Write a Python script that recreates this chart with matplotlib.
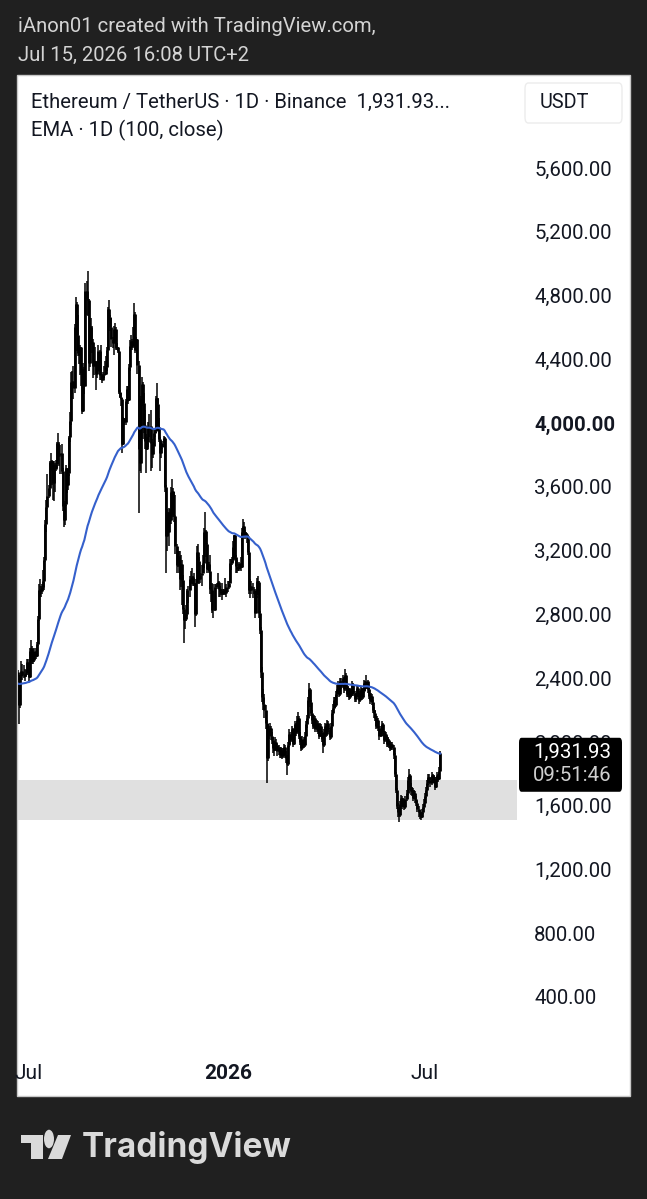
import matplotlib
matplotlib.use('Agg')

import numpy as np
import pandas as pd
import matplotlib.pyplot as plt
import matplotlib.dates as mdates
from matplotlib.patches import Rectangle, FancyBboxPatch, Circle, Polygon

plt.rcParams['font.family'] = ['Roboto', 'DejaVu Sans']

###### DATA ##########################################################################################
# ETH/USDT daily candles, 2025-06-21 .. 2026-07-15 (open = previous close)
start_date = '2025-06-21'
first_open = 2440
ema_seed = 2365          # EMA(100) value just before the first candle

closes = [
    2410, 2230, 2415, 2445, 2420, 2415, 2425, 2435, 2500, 2485,                                   # Jun 2025
    2405, 2570, 2590, 2510, 2515, 2570, 2540, 2615, 2770, 2950, 2960, 2945, 2970, 3010, 3140, 3370,
    3475, 3545, 3590, 3755, 3760, 3745, 3625, 3710, 3715, 3745, 3875, 3795, 3800, 3810, 3700,     # Jul
    3480, 3390, 3495, 3720, 3610, 3685, 3910, 4015, 4255, 4265, 4220, 4600, 4750, 4550, 4440, 4425,
    4475, 4315, 4075, 4340, 4230, 4830, 4780, 4775, 4380, 4600, 4505, 4510, 4360, 4370, 4390,     # Aug
    4310, 4330, 4450, 4300, 4300, 4270, 4300, 4310, 4310, 4350, 4460, 4715, 4665, 4605, 4525, 4500,
    4590, 4590, 4470, 4480, 4450, 4195, 4165, 4150, 3870, 4030, 4010, 4140, 4215, 4145,           # Sep
    4350, 4485, 4515, 4485, 4515, 4685, 4460, 4530, 4365, 3835, 3750, 4155, 4245, 4125, 3990, 3890,
    3835, 3880, 3985, 3980, 3875, 3805, 3855, 3935, 3950, 4160, 4120, 3975, 3900, 3810, 3850,     # Oct
    3875, 3905, 3600, 3290, 3425, 3315, 3445, 3395, 3565, 3575, 3425, 3420, 3230, 3110, 3165, 3110,
    3020, 3115, 3015, 2835, 2765, 2770, 2800, 2955, 2955, 3025, 3020, 3035, 2990, 2990,           # Nov
    2800, 3000, 3190, 3135, 3020, 3045, 3060, 3120, 3320, 3325, 3240, 3085, 3115, 3075, 2960, 2950,
    2830, 2830, 2975, 2980, 2985, 3005, 2960, 2945, 2935, 2930, 2950, 2950, 2935, 2970, 2970,     # Dec
    3000, 3120, 3125, 3140, 3225, 3295, 3160, 3105, 3085, 3085, 3120, 3095, 3320, 3355, 3320, 3295,
    3305, 3290, 3190, 2950, 2980, 2950, 2950, 2950, 2810, 2920, 3010, 3005, 2810, 2700, 2440,     # Jan 2026
    2280, 2240, 2200, 2120, 1900, 2080, 2060, 2090, 2040, 2010, 1960, 1950, 2000, 1980, 1940, 1960,
    1920, 1950, 1910, 1940, 1970, 1920, 1900, 1860, 1980, 2050, 2010, 2080,                       # Feb
    1990, 2060, 2110, 2060, 2140, 2150, 2040, 2000, 1960, 2020, 1980, 2040, 2110, 2150, 2260, 2330,
    2250, 2180, 2140, 2100, 2150, 2080, 2120, 2070, 2040, 2100, 2060, 2020, 1980, 2060, 2100,     # Mar
    2050, 2120, 2080, 2030, 2100, 2180, 2210, 2260, 2230, 2300, 2330, 2360, 2300, 2380, 2350, 2400,
    2330, 2420, 2350, 2300, 2330, 2280, 2320, 2300, 2360, 2310, 2270, 2290, 2340, 2300,           # Apr
    2260, 2300, 2330, 2280, 2320, 2370, 2340, 2380, 2330, 2290, 2260, 2290, 2250, 2200, 2180, 2150,
    2100, 2140, 2090, 2040, 2080, 2110, 2060, 2010, 2050, 2030, 1990, 2010, 1980, 1960, 1990,     # May
    1970, 1920, 1800, 1700, 1600, 1560, 1540, 1610, 1650, 1600, 1630, 1590, 1640, 1680, 1760, 1790,
    1720, 1690, 1700, 1650, 1680, 1640, 1620, 1580, 1560, 1540, 1530, 1560, 1590, 1620,           # Jun
    1660, 1700, 1740, 1780, 1760, 1740, 1790, 1760, 1770, 1720, 1760, 1790, 1770, 1820, 1931.93,  # Jul
]

highs = [
    2450, 2420, 2420, 2510, 2490, 2480, 2460, 2450, 2520, 2520,
    2495, 2590, 2640, 2600, 2530, 2590, 2590, 2630, 2790, 2990, 3020, 2980, 2990, 3080, 3160, 3390,
    3520, 3680, 3610, 3760, 3810, 3770, 3760, 3760, 3750, 3770, 3880, 3940, 3880, 3860, 3870,
    3720, 3500, 3510, 3735, 3720, 3700, 3920, 4070, 4320, 4330, 4360, 4620, 4790, 4760, 4680, 4470,
    4490, 4480, 4340, 4380, 4350, 4880, 4890, 4955, 4780, 4630, 4660, 4610, 4530, 4400, 4480,
    4390, 4360, 4490, 4460, 4490, 4310, 4320, 4360, 4390, 4420, 4480, 4730, 4770, 4680, 4660, 4540,
    4610, 4630, 4600, 4500, 4480, 4450, 4210, 4190, 4160, 4040, 4030, 4150, 4230, 4230,
    4370, 4520, 4550, 4530, 4600, 4755, 4700, 4540, 4530, 4390, 3870, 4170, 4290, 4260, 4190, 4080,
    3930, 3910, 4010, 4060, 4080, 3900, 3880, 3960, 3960, 4170, 4250, 4160, 4030, 3910, 3880,
    3890, 3920, 3910, 3610, 3460, 3440, 3470, 3460, 3600, 3650, 3590, 3570, 3550, 3240, 3200, 3200,
    3200, 3170, 3140, 3050, 2840, 2800, 2860, 2960, 2980, 3040, 3070, 3090, 3040, 3060,
    3000, 3020, 3230, 3240, 3160, 3060, 3110, 3170, 3340, 3445, 3330, 3250, 3130, 3130, 3170, 2970,
    3000, 2990, 2990, 2990, 3000, 3060, 3010, 2980, 2960, 3000, 2960, 2960, 3030, 2990, 3010,
    3010, 3150, 3150, 3160, 3260, 3300, 3300, 3170, 3140, 3100, 3130, 3160, 3340, 3400, 3380, 3330,
    3320, 3310, 3290, 3200, 3020, 3010, 3000, 2970, 2960, 2930, 3030, 3040, 3010, 2820, 2720,
    2470, 2330, 2300, 2230, 2140, 2110, 2100, 2120, 2100, 2060, 2030, 1990, 2030, 2020, 1990, 1980,
    1970, 1970, 1960, 1960, 1990, 1980, 1940, 1920, 2000, 2080, 2060, 2100,
    2090, 2080, 2130, 2120, 2160, 2185, 2160, 2060, 2020, 2040, 2030, 2060, 2130, 2170, 2280, 2370,
    2340, 2260, 2200, 2160, 2170, 2160, 2140, 2130, 2090, 2120, 2110, 2070, 2030, 2080, 2120,
    2110, 2140, 2130, 2090, 2120, 2200, 2240, 2280, 2280, 2320, 2360, 2380, 2370, 2400, 2400, 2420,
    2410, 2455, 2430, 2370, 2350, 2340, 2340, 2330, 2380, 2370, 2320, 2310, 2360, 2350,
    2310, 2320, 2350, 2340, 2340, 2390, 2380, 2420, 2390, 2340, 2300, 2310, 2300, 2260, 2220, 2200,
    2160, 2160, 2150, 2100, 2100, 2130, 2120, 2070, 2070, 2060, 2040, 2030, 2020, 1990, 2000,
    2000, 1980, 1930, 1810, 1710, 1620, 1580, 1630, 1670, 1660, 1650, 1640, 1660, 1700, 1780, 1830,
    1800, 1740, 1720, 1710, 1700, 1690, 1660, 1630, 1600, 1570, 1560, 1580, 1610, 1640,
    1680, 1720, 1760, 1800, 1800, 1780, 1810, 1800, 1790, 1780, 1780, 1810, 1800, 1840, 1945,
]

lows = [
    2390, 2110, 2210, 2390, 2390, 2400, 2380, 2410, 2420, 2460,
    2380, 2400, 2550, 2490, 2490, 2500, 2520, 2530, 2600, 2760, 2920, 2910, 2930, 2960, 2950, 3130,
    3320, 3460, 3530, 3580, 3700, 3610, 3520, 3510, 3570, 3700, 3720, 3770, 3730, 3680, 3680,
    3450, 3350, 3360, 3480, 3560, 3580, 3670, 3880, 3990, 4180, 4150, 4190, 4570, 4450, 4420, 4370,
    4300, 4230, 4060, 4070, 4180, 4230, 4680, 4670, 4330, 4350, 4490, 4440, 4280, 4300, 4360,
    4210, 4280, 4320, 4270, 4270, 4250, 4270, 4280, 4300, 4300, 4330, 4450, 4630, 4580, 4480, 4470,
    4430, 4560, 4460, 4460, 4440, 4180, 4160, 4110, 3815, 3860, 3990, 3990, 4120, 4120,
    4140, 4330, 4470, 4460, 4470, 4510, 4440, 4460, 4310, 3435, 3700, 3690, 4110, 3900, 3940, 3840,
    3690, 3830, 3850, 3910, 3700, 3720, 3780, 3850, 3910, 3940, 4100, 3950, 3880, 3700, 3780,
    3840, 3850, 3570, 3057, 3200, 3290, 3230, 3380, 3370, 3520, 3410, 3380, 3180, 3060, 3100, 3060,
    2950, 2970, 2860, 2800, 2620, 2710, 2760, 2790, 2870, 2910, 3000, 2990, 2980, 2980,
    2720, 2790, 2990, 3120, 2990, 3000, 2980, 3060, 3090, 3310, 3160, 3060, 3080, 3060, 2930, 2880,
    2810, 2775, 2820, 2970, 2960, 2970, 2910, 2910, 2920, 2890, 2920, 2930, 2920, 2910, 2940,
    2960, 3000, 3080, 3110, 3130, 3190, 3150, 3060, 3060, 3070, 3070, 3070, 3090, 3300, 3290, 3270,
    3290, 3250, 3170, 2930, 2900, 2930, 2900, 2930, 2780, 2810, 2900, 2970, 2780, 2680, 2400,
    2250, 2200, 2150, 2080, 1740, 1880, 2020, 2040, 2010, 1990, 1930, 1910, 1940, 1950, 1910, 1920,
    1900, 1900, 1890, 1900, 1930, 1900, 1870, 1795, 1850, 1970, 1990, 2000,
    1970, 1980, 2040, 2040, 2050, 2110, 2020, 1980, 1940, 1950, 1960, 1970, 2030, 2090, 2140, 2250,
    2220, 2160, 2110, 2080, 2090, 2060, 2060, 2050, 2020, 2030, 2040, 2000, 1930, 1970, 2040,
    2030, 2040, 2060, 2010, 2020, 2090, 2170, 2200, 2210, 2220, 2290, 2320, 2280, 2290, 2330, 2340,
    2310, 2320, 2330, 2280, 2280, 2260, 2270, 2280, 2290, 2290, 2250, 2250, 2280, 2280,
    2240, 2250, 2290, 2260, 2270, 2310, 2320, 2330, 2310, 2270, 2240, 2250, 2230, 2180, 2150, 2130,
    2080, 2090, 2070, 2010, 2030, 2070, 2040, 1990, 2000, 2010, 1970, 1970, 1960, 1940, 1950,
    1950, 1890, 1780, 1680, 1580, 1530, 1500, 1530, 1590, 1580, 1590, 1570, 1580, 1630, 1670, 1740,
    1700, 1670, 1660, 1630, 1640, 1620, 1600, 1560, 1530, 1515, 1510, 1520, 1550, 1580,
    1610, 1650, 1690, 1730, 1740, 1720, 1730, 1740, 1740, 1700, 1710, 1750, 1750, 1760, 1810,
]

price_ticks = [5600, 5200, 4800, 4400, 4000, 3600, 3200, 2800, 2400, 2000, 1600, 1200, 800, 400]
time_ticks = ['2025-07-01', '2026-01-01', '2026-07-01']
time_labels = ['Jul', '2026', 'Jul']
zone = (1510, 1760)      # grey support zone

###### HELPERS #######################################################################################
W, H = 647, 1199

def fx(px):              # pixel x -> figure fraction
    return px / W

def fy(py):              # pixel y (from top) -> figure fraction
    return 1 - py / H

###### BUILD SERIES ##################################################################################
dates = pd.date_range(start_date, periods=len(closes), freq='D')
df = pd.DataFrame({'close': closes, 'high': highs, 'low': lows}, index=dates)
df['open'] = df['close'].shift(1).fillna(first_open)
ema = pd.Series([ema_seed] + closes).ewm(span=100, adjust=False).mean().iloc[1:].values
xs = mdates.date2num(dates)

###### FIGURE ########################################################################################
fig = plt.figure(figsize=(W / 100, H / 100), dpi=100)
fig.patch.set_facecolor('#202020')

# white chart panel
fig.patches.append(Rectangle((fx(17), fy(1096)), fx(630) - fx(17), fy(75) - fy(1096),
                             transform=fig.transFigure, facecolor='white', edgecolor='#c8c8c8',
                             linewidth=1, zorder=-1))

ax = fig.add_axes([fx(18), fy(1055), fx(517) - fx(18), fy(78) - fy(1055)])
ax.set_facecolor('none')
for s in ax.spines.values():
    s.set_visible(False)

# grey zone
ax.axhspan(zone[0], zone[1], color='#e0e0e0', lw=0, zorder=1)

# candles - wicks and bodies, all black
ax.vlines(xs, df['low'], df['high'], color='black', lw=1.1, zorder=3)
ax.vlines(xs, df['open'], df['close'], color='black', lw=2.0, zorder=3)

# EMA 100
ax.plot(xs, ema, color='#3560cc', lw=1.5, zorder=4)

# axis limits (pixel scale of the reference)
x0 = mdates.date2num(pd.Timestamp('2025-07-01'))
ax.set_xlim(x0 - 11 / 1.085, x0 + 488 / 1.085)
ax.set_ylim(36, 6165)

# price axis on the right
ax.yaxis.tick_right()
ax.set_yticks(price_ticks)
ax.set_yticklabels([f'{p:,.2f}' for p in price_ticks])
ax.tick_params(axis='y', length=0, pad=12.5, labelsize=14.7, labelcolor='#131722')
for lbl in ax.get_yticklabels():
    if lbl.get_text() == '4,000.00':
        lbl.set_fontweight('bold')

# time axis
ax.set_xticks(mdates.date2num(pd.to_datetime(time_ticks)))
ax.set_xticklabels(time_labels)
ax.tick_params(axis='x', length=0, pad=6.5, labelsize=15, labelcolor='#131722')
for lbl in ax.get_xticklabels():
    if lbl.get_text() == '2026':
        lbl.set_fontweight('bold')

# last price label
last = df['close'].iloc[-1]
_, py_last = fig.transFigure.inverted().transform(ax.transData.transform((xs[-1], last)))
box_top = py_last + 15 / H
fig.patches.append(FancyBboxPatch((fx(519), box_top - 54 / H), fx(622) - fx(519), 54 / H,
                                  boxstyle='round,pad=0,rounding_size=0.004',
                                  transform=fig.transFigure, facecolor='black',
                                  edgecolor='none', zorder=5))
fig.text(fx(533), py_last, f'{last:,.2f}', color='white', fontsize=14.7,
         va='center', ha='left', zorder=6)
fig.text(fx(533), py_last - 23 / H, '09:51:46', color='#cfcfcf', fontsize=14.7,
         va='center', ha='left', zorder=6)

# USDT currency box
fig.patches.append(FancyBboxPatch((fx(525), fy(123)), fx(622) - fx(525), fy(83) - fy(123),
                                  boxstyle='round,pad=0,rounding_size=0.005',
                                  transform=fig.transFigure, facecolor='white',
                                  edgecolor='#ececec', lw=1, zorder=5))
fig.text(fx(540), fy(103), 'USDT', color='#131722', fontsize=14.3, va='center', ha='left', zorder=6)

# legend texts
fig.text(fx(31), fy(102), 'Ethereum / TetherUS · 1D · Binance  1,931.93...', color='#131722',
         fontsize=14.6, va='center', ha='left')
fig.text(fx(31), fy(130), 'EMA · 1D (100, close)', color='#131722',
         fontsize=14.6, va='center', ha='left')

# header
fig.text(fx(18), fy(27), 'iAnon01 created with TradingView.com,', color='#d4d4d4',
         fontsize=14.6, va='center', ha='left')
fig.text(fx(18), fy(55), 'Jul 15, 2026 16:08 UTC+2', color='#d4d4d4',
         fontsize=14.6, va='center', ha='left')

# footer logo
logo_c = '#dadada'
fig.patches.append(Polygon([(fx(21), fy(1135)), (fx(43), fy(1135)), (fx(43), fy(1159)),
                            (fx(31), fy(1159)), (fx(31), fy(1143)), (fx(21), fy(1143))],
                           closed=True, transform=fig.transFigure, facecolor=logo_c, edgecolor='none'))
fig.patches.append(Circle((fx(49), fy(1139)), 5 / W, transform=fig.transFigure,
                          facecolor=logo_c, edgecolor='none'))
fig.patches.append(Polygon([(fx(58), fy(1135)), (fx(71), fy(1135)), (fx(62), fy(1159)),
                            (fx(48), fy(1159))],
                           closed=True, transform=fig.transFigure, facecolor=logo_c, edgecolor='none'))
fig.text(fx(82), fy(1147), 'TradingView', color=logo_c, fontsize=24, fontweight='bold',
         family=['Inter', 'DejaVu Sans'], va='center', ha='left')

fig.savefig('out.png', dpi=100, facecolor=fig.get_facecolor())
